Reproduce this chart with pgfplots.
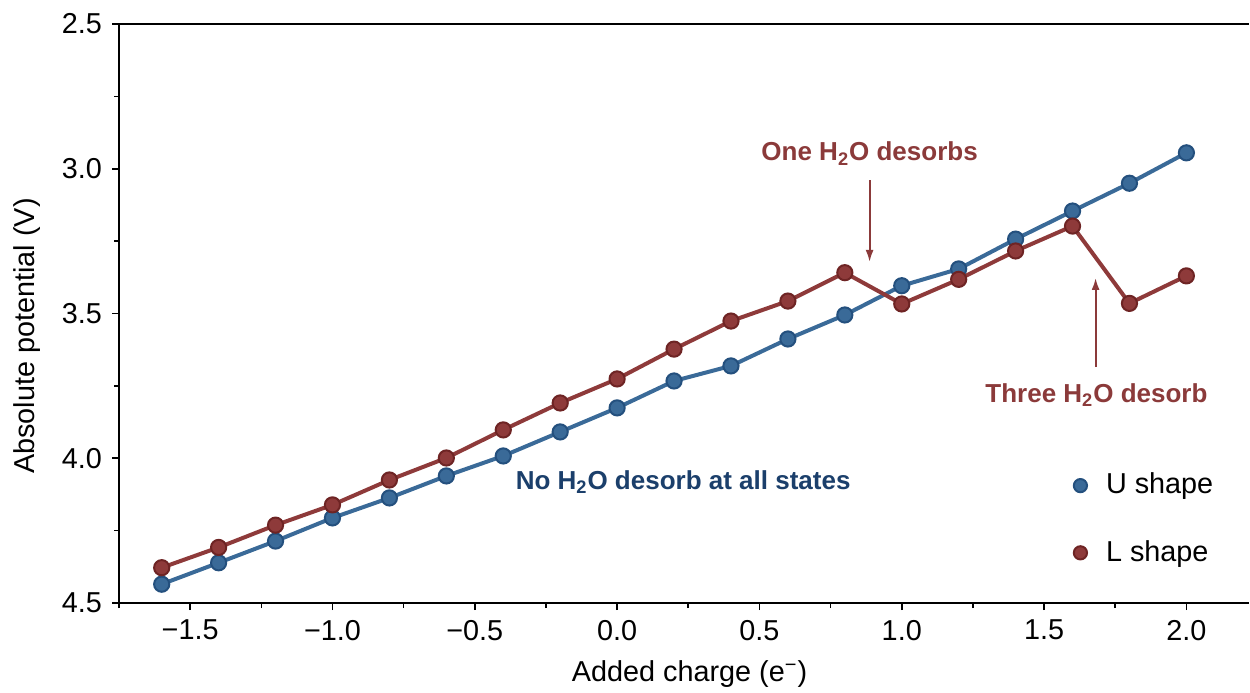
\documentclass[border=0pt]{standalone}
\usepackage{pgfplots}
\pgfplotsset{compat=1.18}
\usetikzlibrary{arrows.meta}
\usepackage{fontspec}
\setmainfont{Liberation Sans}
\definecolor{ublue}{HTML}{3A6A98}
\definecolor{ubluedk}{HTML}{24507E}
\definecolor{lred}{HTML}{8E3A3A}
\definecolor{lreddk}{HTML}{6E2424}
\definecolor{tblue}{HTML}{1B3F6B}
\definecolor{tred}{HTML}{8B3A3A}
\begin{document}
\fontsize{14.4}{17}\selectfont
\begin{tikzpicture}
\begin{axis}[
  name=ax,
  scale only axis, width=565pt, height=289.5pt,
  xmin=-1.75, xmax=2.22, ymin=2.5, ymax=4.5, y dir=reverse,
  axis x line=box, axis y line=left,
  axis line style={-, line width=0.8pt, black},
  tick style={black, line width=0.8pt},
  tick align=outside,
  major tick length=3.5pt, minor tick length=2.5pt,
  xtick pos=bottom, ytick pos=left,
  xtick={-1.5,-1,-0.5,0,0.5,1,1.5,2},
  xticklabels={−1.5,−1.0,−0.5,0.0,0.5,1.0,1.5,2.0},
  minor xtick={-1.75,-1.25,-0.75,-0.25,0.25,0.75,1.25,1.75},
  ytick={2.5,3,3.5,4,4.5},
  yticklabels={2.5,3.0,3.5,4.0,4.5},
  minor ytick={2.75,3.25,3.75,4.25},
  tick label style={font=\fontsize{14.4}{17}\selectfont},
  /pgf/number format/assume math mode=true,
  legend style={at={(axis cs:1.582,4.022)}, anchor=north west, draw=none, fill=none,
    font=\fontsize{14.4}{17}\selectfont, row sep=17pt,
    /tikz/every odd column/.append style={column sep=7.5pt}},
  legend cell align=left,
  legend image code/.code={\draw[#1, mark size=3.3pt] plot[only marks] coordinates {(0pt,0pt)};},
]
\addplot[ublue, line width=2pt, mark=*, mark size=3.8pt,
  mark options={fill=ublue, draw=ubluedk, line width=1pt}] coordinates {
(-1.6,4.435) (-1.4,4.361) (-1.2,4.286) (-1.0,4.206) (-0.8,4.137) (-0.6,4.061)
(-0.4,3.992) (-0.2,3.909) (0.0,3.826) (0.2,3.733) (0.4,3.681) (0.6,3.588)
(0.8,3.505) (1.0,3.404) (1.2,3.346) (1.4,3.243) (1.6,3.146) (1.8,3.050) (2.0,2.945)};
\addlegendentry{U shape}
\addplot[lred, line width=2pt, mark=*, mark size=3.8pt,
  mark options={fill=lred, draw=lreddk, line width=1pt}] coordinates {
(-1.6,4.378) (-1.4,4.308) (-1.2,4.231) (-1.0,4.161) (-0.8,4.075) (-0.6,3.999)
(-0.4,3.902) (-0.2,3.809) (0.0,3.726) (0.2,3.623) (0.4,3.526) (0.6,3.457)
(0.8,3.359) (1.0,3.467) (1.2,3.382) (1.4,3.284) (1.6,3.198) (1.8,3.465) (2.0,3.370)};
\addlegendentry{L shape}
\node[text=tred, font=\bfseries\fontsize{13}{15}\selectfont] at (axis cs:0.887,2.947) {One H\textsubscript{2}O desorbs};
\draw[tred, line width=1pt, -{Latex[length=6pt,width=4pt]}] (axis cs:0.887,3.039) -- (axis cs:0.887,3.322);
\node[text=tred, font=\bfseries\fontsize{13}{15}\selectfont] at (axis cs:1.684,3.782) {Three H\textsubscript{2}O desorb};
\draw[tred, line width=1pt, -{Latex[length=6pt,width=4pt]}] (axis cs:1.681,3.685) -- (axis cs:1.681,3.377);
\node[text=tblue, font=\bfseries\fontsize{13}{15}\selectfont] at (axis cs:0.232,4.082) {No H\textsubscript{2}O desorb at all states};
\end{axis}
\node[rotate=90] at ([xshift=-46pt,yshift=-11.25pt]ax.west) {Absolute potential (V)};
\node at ([xshift=2.75pt,yshift=-35.5pt]ax.south) {Added charge (e\textsuperscript{−})};
\pgfresetboundingbox
\path[use as bounding box] ([shift={(-59.5pt,-44.5pt)}]ax.south west) rectangle ([shift={(0.5pt,12pt)}]ax.north east);
\end{tikzpicture}
\end{document}
